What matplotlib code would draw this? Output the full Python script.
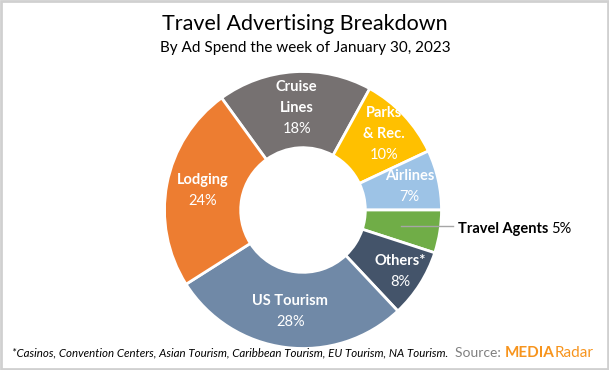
import matplotlib.pyplot as plt
from matplotlib.patches import Rectangle
import numpy as np

# data (clockwise from the top-left)
categories = ['Cruise\nLines', 'Parks\n& Rec.', 'Airlines', 'Travel Agents', 'Others*', 'US Tourism', 'Lodging']
shares = [18, 10, 7, 5, 8, 28, 24]
colors = ['#767171', '#FFC000', '#9DC3E6', '#70AD47', '#44546A', '#7089A7', '#ED7D31']
pct_labels = [f'{v}%' for v in shares]

title = 'Travel Advertising Breakdown'
subtitle = 'By Ad Spend the week of January 30, 2023'
footnote = '*Casinos, Convention Centers, Asian Tourism, Caribbean Tourism, EU Tourism, NA Tourism.'

# label distance from the centre (outer radius = 1), per slice
label_radius = {'Cruise\nLines': 0.74, 'Parks\n& Rec.': 0.80, 'Airlines': 0.79,
                'Others*': 0.83, 'US Tourism': 0.74, 'Lodging': 0.74}

plt.rcParams['font.family'] = ['Lato', 'DejaVu Sans']

W, H = 609, 370
fig = plt.figure(figsize=(W / 100, H / 100), dpi=100)
fig.patch.set_facecolor('white')

# light frame round the picture
fig.patches.append(Rectangle((0.002, 0.003), 0.996, 0.994, transform=fig.transFigure,
                             fill=False, edgecolor='#D0D0D0', linewidth=2))

# donut: centre (303, 210) px, outer radius ~138 px
cx, cy, R = 303, 210, 138.5
ax = fig.add_axes([(cx - R) / W, (H - cy - R) / H, 2 * R / W, 2 * R / H])
wedges, _ = ax.pie(shares, colors=colors, startangle=126, counterclock=False, radius=1,
                   wedgeprops=dict(width=0.55, edgecolor='white', linewidth=2))
ax.set_xlim(-1, 1)
ax.set_ylim(-1, 1)
ax.set_aspect('equal')
ax.axis('off')

px = 1 / R  # data units per pixel
line_h = 21 * px
for w, name, pct in zip(wedges, categories, pct_labels):
    ang = np.deg2rad((w.theta1 + w.theta2) / 2)
    if name == 'Travel Agents':
        x0, y0 = 0.72 * np.cos(ang), 0.72 * np.sin(ang)
        ax.plot([x0, 1.08], [y0, y0], color='#A6A6A6', linewidth=1, clip_on=False)
        t = ax.text(1.12, y0 - 3 * px, name, color='black', fontsize=10.5, fontweight='bold',
                    ha='left', va='center', clip_on=False)
        fig.canvas.draw()
        bb = t.get_window_extent().transformed(ax.transData.inverted())
        ax.text(bb.x1 + 3 * px, y0 - 3 * px, pct, color='black', fontsize=10.5,
                ha='left', va='center', clip_on=False)
        continue
    lr = label_radius[name]
    x, y = lr * np.cos(ang), lr * np.sin(ang)
    lines = name.split('\n')
    n = len(lines) + 1
    for i, ln in enumerate(lines):
        ax.text(x, y + ((n - 1) / 2 - i) * line_h, ln, color='white', fontsize=10.5,
                fontweight='bold', ha='center', va='center')
    ax.text(x, y - (n - 1) / 2 * line_h, pct, color='white', fontsize=10.5,
            ha='center', va='center')

fig.text(305 / W, 1 - 24 / H, title, fontsize=15.5, ha='center', va='center', color='black')
fig.text(305 / W, 1 - 48 / H, subtitle, fontsize=11, ha='center', va='center', color='black')
fig.text(12 / W, 1 - 353 / H, footnote, fontsize=8.3, style='italic', ha='left', va='center',
         color='black')

# source logo
fig.canvas.draw()
r = fig.canvas.get_renderer()
s = fig.text(455 / W, 1 - 353 / H, 'Source: ', fontsize=10, color='#808080', ha='left', va='center')
x1 = s.get_window_extent(r).x1 / W
m = fig.text(x1, 1 - 353 / H, 'MEDIA', fontsize=11, fontweight='bold', color='#F7941D',
             ha='left', va='center')
x2 = m.get_window_extent(r).x1 / W
fig.text(x2, 1 - 353 / H, 'Radar', fontsize=11, color='#F7941D', ha='left', va='center')

fig.savefig('out.png', dpi=100)
